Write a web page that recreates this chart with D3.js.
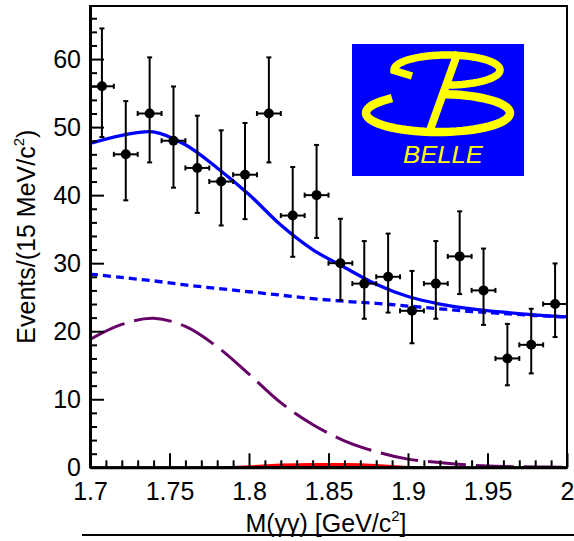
<!DOCTYPE html>
<html>
<head>
<meta charset="utf-8">
<script src="https://cdn.jsdelivr.net/npm/d3@7"></script>
<style>
  body { margin: 0; background: #fff; }
  svg { display: block; }
  text { font-family: "Liberation Sans", Arial, Helvetica, sans-serif; }
</style>
</head>
<body>
<svg id="chart" width="574" height="541"></svg>
<script>
// Bin centres of the 15 MeV/c^2 histogram, M(γγ) in GeV/c^2
const binCenters = [1.7075, 1.7225, 1.7375, 1.7525, 1.7675, 1.7825, 1.7975, 1.8125, 1.8275, 1.8425,
                    1.8575, 1.8725, 1.8875, 1.9025, 1.9175, 1.9325, 1.9475, 1.9625, 1.9775, 1.9925];
const binHalfWidth = 0.0075;
// Event counts per bin
const counts = [56, 46, 52, 48, 44, 42, 43, 52, 37, 40, 30, 27, 28, 23, 27, 31, 26, 16, 18, 24];
// Asymmetric (Poisson) error bars
const errHigh = [8.50, 7.82, 8.25, 7.97, 7.68, 7.53, 7.61, 8.25, 7.13, 7.38,
                 6.53, 6.25, 6.35, 5.86, 6.25, 6.62, 6.15, 5.08, 5.30, 5.96];
const errLow  = [7.46, 6.76, 7.19, 6.90, 6.61, 6.46, 6.53, 7.19, 6.06, 6.30,
                 5.45, 5.17, 5.26, 4.77, 5.17, 5.54, 5.07, 3.95, 4.20, 4.86];

// Fit curves sampled along the mass axis
const fitX     = [1.70, 1.72, 1.74, 1.76, 1.78, 1.80, 1.82, 1.84, 1.86, 1.88, 1.90, 1.92, 1.94, 1.96, 1.98, 2.00];
const totalFit = [47.6, 48.8, 49.3, 47.4, 44.0, 40.1, 35.6, 32.0, 29.4, 26.9, 25.1, 24.0, 23.3, 22.8, 22.4, 22.1];
const bkgFit   = [28.4, 27.9, 27.4, 26.8, 26.3, 25.8, 25.3, 24.8, 24.4, 24.1, 23.7, 23.3, 22.9, 22.6, 22.3, 22.1];
const peakFit  = [18.8, 21.0, 21.9, 20.7, 17.7, 13.7, 9.5, 6.3, 3.9, 2.3, 1.2, 0.7, 0.3, 0.12, 0.05, 0.02];
const sigFit   = [0, 0, 0, 0, 0.08, 0.3, 0.55, 0.65, 0.65, 0.5, 0.2, 0.04, 0, 0, 0, 0];

// Axis ticks
const xMajorTicks = [1.7, 1.75, 1.8, 1.85, 1.9, 1.95, 2.0];
const xTickLabels = ["1.7", "1.75", "1.8", "1.85", "1.9", "1.95", "2"];
const yMajorTicks = [0, 10, 20, 30, 40, 50, 60];
const xDomain = [1.7, 2.0];
const yDomain = [0, 67.8];

const svg = d3.select("#chart");
const pLeft = 90, pRight = 567, pTop = 6, pBottom = 467.3;

const x = d3.scaleLinear().domain(xDomain).range([pLeft, pRight]);
const y = d3.scaleLinear().domain(yDomain).range([pBottom, pTop]);

svg.append("defs").append("clipPath").attr("id", "plotClip")
  .append("rect").attr("x", pLeft).attr("y", pTop).attr("width", pRight - pLeft).attr("height", pBottom - pTop);

const plot = svg.append("g").attr("clip-path", "url(#plotClip)");

const idx = d3.range(fitX.length);
const smooth = d3.curveCatmullRom.alpha(0.5);

// Red filled component along the bottom
plot.append("path")
  .attr("d", d3.area().x(i => x(fitX[i])).y0(y(0)).y1(i => y(sigFit[i])).curve(d3.curveMonotoneX)(idx))
  .attr("fill", "#ff0000");

// Purple long-dashed component
plot.append("path")
  .attr("d", d3.line().x(i => x(fitX[i])).y(i => y(peakFit[i])).curve(smooth)(idx))
  .attr("fill", "none").attr("stroke", "#660066").attr("stroke-width", 3)
  .attr("stroke-dasharray", "38,10");

// Background (blue dashed)
plot.append("path")
  .attr("d", d3.line().x(i => x(fitX[i])).y(i => y(bkgFit[i])).curve(smooth)(idx))
  .attr("fill", "none").attr("stroke", "#0000ff").attr("stroke-width", 3.3)
  .attr("stroke-dasharray", "8,5");

// Total fit (blue solid)
plot.append("path")
  .attr("d", d3.line().x(i => x(fitX[i])).y(i => y(totalFit[i])).curve(smooth)(idx))
  .attr("fill", "none").attr("stroke", "#0000ff").attr("stroke-width", 3.3);

// Data points with error bars
const pts = svg.append("g").attr("stroke", "#000").attr("stroke-width", 2).attr("fill", "#000");
binCenters.forEach((c, i) => {
  const cx = x(c), cy = y(counts[i]);
  const yHi = y(counts[i] + errHigh[i]), yLo = y(counts[i] - errLow[i]);
  const xL = x(c - binHalfWidth), xR = x(c + binHalfWidth);
  const cap = 2.5;
  pts.append("line").attr("x1", cx).attr("x2", cx).attr("y1", yHi).attr("y2", yLo);
  pts.append("line").attr("x1", cx - cap).attr("x2", cx + cap).attr("y1", yHi).attr("y2", yHi);
  pts.append("line").attr("x1", cx - cap).attr("x2", cx + cap).attr("y1", yLo).attr("y2", yLo);
  pts.append("line").attr("x1", xL).attr("x2", xR).attr("y1", cy).attr("y2", cy);
  pts.append("line").attr("x1", xL).attr("x2", xL).attr("y1", cy - cap).attr("y2", cy + cap);
  pts.append("line").attr("x1", xR).attr("x2", xR).attr("y1", cy - cap).attr("y2", cy + cap);
  pts.append("circle").attr("cx", cx).attr("cy", cy).attr("r", 5).attr("stroke", "none");
});

// Frame
svg.append("rect").attr("x", pLeft).attr("y", pTop).attr("width", pRight - pLeft).attr("height", pBottom - pTop)
  .attr("fill", "none").attr("stroke", "#000").attr("stroke-width", 2);

// X axis: major + minor ticks pointing inward
const xMinor = d3.range(170, 201).map(v => v / 100).filter(v => !xMajorTicks.some(m => Math.abs(m - v) < 1e-6));
svg.append("g").attr("transform", `translate(0,${pBottom})`)
  .call(d3.axisBottom(x).tickValues(xMajorTicks).tickSize(-14).tickSizeOuter(0).tickPadding(15)
    .tickFormat((d, i) => xTickLabels[i]));
svg.append("g").attr("transform", `translate(0,${pBottom})`)
  .call(d3.axisBottom(x).tickValues(xMinor).tickSize(-7).tickSizeOuter(0).tickFormat(""))
  .call(g => g.select(".domain").remove());

// Y axis
const yMinor = d3.range(0, 67, 2).filter(v => v % 10 !== 0);
svg.append("g").attr("transform", `translate(${pLeft},0)`)
  .call(d3.axisLeft(y).tickValues(yMajorTicks).tickSize(-14).tickSizeOuter(0).tickPadding(9));
svg.append("g").attr("transform", `translate(${pLeft},0)`)
  .call(d3.axisLeft(y).tickValues(yMinor).tickSize(-7).tickSizeOuter(0).tickFormat(""))
  .call(g => g.select(".domain").remove());

svg.selectAll(".tick line").attr("stroke", "#000").attr("stroke-width", 2);
svg.selectAll(".domain").attr("stroke", "#000").attr("stroke-width", 3);
svg.selectAll(".tick text").attr("font-size", 25).attr("fill", "#000")
  .attr("font-family", "'Liberation Sans', Arial, Helvetica, sans-serif");

// Axis titles
const xTitle = svg.append("text").attr("x", 326).attr("y", 531.5)
  .attr("text-anchor", "middle").attr("font-size", 25).attr("fill", "#000");
xTitle.append("tspan").text("M(γγ) [GeV/c");
xTitle.append("tspan").attr("font-size", 15).attr("dy", -11).text("2");
xTitle.append("tspan").attr("dy", 11).text("]");

const yTitle = svg.append("text")
  .attr("transform", `translate(35,${(pTop + pBottom) / 2}) rotate(-90)`)
  .attr("text-anchor", "middle").attr("font-size", 25).attr("fill", "#000");
yTitle.append("tspan").text("Events/(15 MeV/c");
yTitle.append("tspan").attr("font-size", 15).attr("dy", -11).text("2");
yTitle.append("tspan").attr("dy", 11).text(")");

// Rule under the axis title
svg.append("line").attr("x1", 82).attr("x2", 574).attr("y1", 535).attr("y2", 535)
  .attr("stroke", "#000").attr("stroke-width", 2);

// Belle logo
const logo = svg.append("g");
logo.append("rect").attr("x", 352).attr("y", 44).attr("width", 172).attr("height", 132).attr("fill", "#0000ff");
const ell = (cx, cy, rx, ry, a0, a1) => d3.range(0, 61).map(k => {
  const a = (a0 + (a1 - a0) * k / 60) * Math.PI / 180;
  return [cx + rx * Math.cos(a), cy + ry * Math.sin(a)];
});
const ln = d3.line();
const yellow = "#ffff00";
// upper bowl
logo.append("path").attr("d", ln([[412, 76], ...ell(447, 70, 53, 15, 178, 452)]))
  .attr("fill", "none").attr("stroke", yellow).attr("stroke-width", 7.5);
// lower bowl
logo.append("path").attr("d", ln([[392, 98], ...ell(438, 113, 72, 19, 218, -88)]))
  .attr("fill", "none").attr("stroke", yellow).attr("stroke-width", 8.5);
// stem
logo.append("path").attr("d", ln([[458, 52], [430, 130]]))
  .attr("fill", "none").attr("stroke", yellow).attr("stroke-width", 8);
logo.append("text").attr("x", 403).attr("y", 163).attr("font-size", 23).attr("font-style", "italic")
  .attr("fill", yellow).attr("textLength", 80).attr("lengthAdjust", "spacingAndGlyphs").text("BELLE");
</script>
</body>
</html>
